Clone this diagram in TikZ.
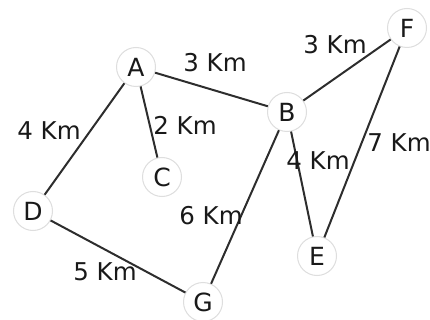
\documentclass[tikz,border=0pt]{standalone}
\usepackage{fontspec}
\setmainfont{DejaVu Sans}
\definecolor{edgec}{RGB}{45,45,45}
\definecolor{ringc}{RGB}{222,222,222}
\definecolor{txtc}{RGB}{25,25,25}
\begin{document}
\begin{tikzpicture}[x=1pt,y=-1pt,
  vert/.style={circle,draw=ringc,line width=1pt,fill=white,minimum size=39pt,inner sep=0pt,text=txtc,font=\fontsize{25}{25}\selectfont},
  wlabel/.style={inner sep=0pt,text=txtc,font=\fontsize{24.5}{24.5}\selectfont},
  link/.style={draw=edgec,line width=2pt}]
\useasboundingbox (0,0) rectangle (430,320);
\node[vert] (A) at (136,67) {A};
\node[vert] (B) at (287,112) {B};
\node[vert] (F) at (407,28) {F};
\node[vert] (C) at (162,177) {C};
\node[vert] (D) at (33,211) {D};
\node[vert] (E) at (317,256) {E};
\node[vert] (G) at (203,302) {G};
\draw[link] (A) -- (B);
\draw[link] (A) -- (C);
\draw[link] (A) -- (D);
\draw[link] (B) -- (F);
\draw[link] (B) -- (E);
\draw[link] (B) -- (G);
\draw[link] (F) -- (E);
\draw[link] (D) -- (G);
\node[wlabel] (lab) at (215,63) {3 Km};
\node[wlabel] (lac) at (185,125) {2 Km};
\node[wlabel] (lad) at (49,131) {4 Km};
\node[wlabel] (lbf) at (335,45) {3 Km};
\node[wlabel] (lbe) at (318,161) {4 Km};
\node[wlabel] (lfe) at (399,143) {7 Km};
\node[wlabel] (lbg) at (211,216) {6 Km};
\node[wlabel] (ldg) at (105,272) {5 Km};
\end{tikzpicture}
\end{document}
